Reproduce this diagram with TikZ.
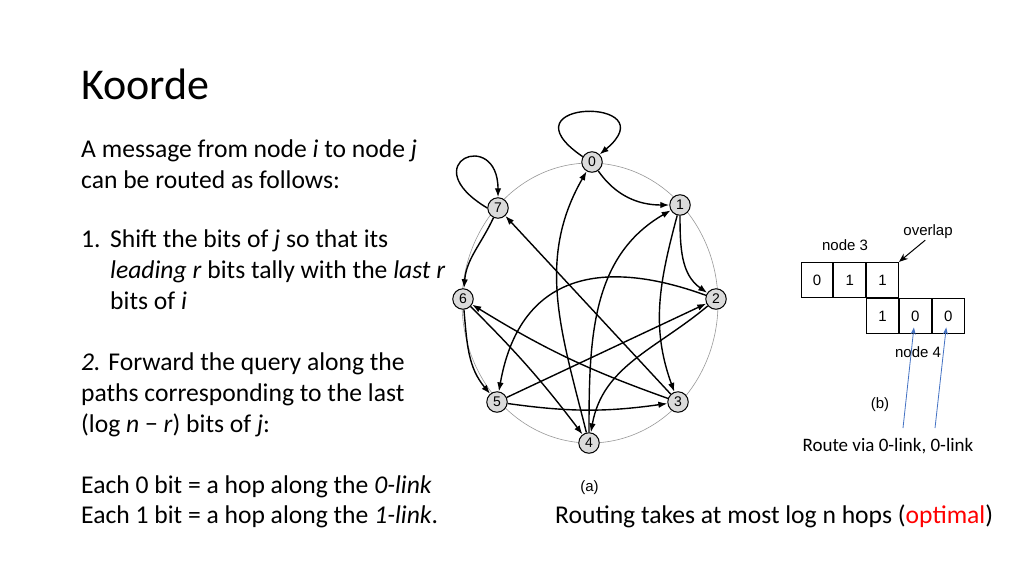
\documentclass[tikz,border=0pt]{standalone}
\usepackage{fontspec}
\setmainfont{Carlito}
\newfontfamily\arialfont{Liberation Sans}
\usetikzlibrary{arrows.meta,positioning}
\definecolor{linkblue}{HTML}{4472C4}
\definecolor{optred}{HTML}{FF0000}
\tikzset{
vertex/.style={draw,circle,fill=black!14,line width=1pt,minimum size=20.5pt,inner sep=0pt,font=\arialfont\fontsize{14}{14}\selectfont},
edge/.style={-{Latex[length=9pt,width=6.5pt]},line width=1.4pt},
ring/.style={draw=black!40,line width=.6pt},
bitbox/.style={draw,line width=1pt,minimum width=31.8pt,minimum height=35.3pt,inner sep=0pt,font=\arialfont\fontsize{15}{15}\selectfont},
small/.style={inner sep=0pt,font=\arialfont\fontsize{15}{15}\selectfont},
body/.style={anchor=base west,inner sep=0pt,font=\fontsize{25.6}{31}\selectfont},
bluearrow/.style={-{Stealth[length=7pt,width=5pt]},draw=linkblue,line width=.8pt}
}

\begin{document}
\begin{tikzpicture}[x=1pt,y=1pt]
\fill[white] (0,0) rectangle (1024,-576);
\useasboundingbox (0,0) rectangle (1024,-576);

% text column
\node[body,font=\fontsize{44}{48}\selectfont] (title) at (81,-99) {Koorde};
\node[body] (l1) at (81,-157) {A message from node \textit{i} to node \textit{j}};
\node[body] (l2) at (81,-188) {can be routed as follows:};
\node[body] (l3) at (81,-247) {\makebox[29pt][l]{1.}Shift the bits of \textit{j} so that its};
\node[body] (l4) at (110,-278) {\textit{leading r} bits tally with the \textit{last r}};
\node[body] (l5) at (110,-309) {bits of \textit{i}};
\node[body] (l6) at (81,-370) {\textit{2.} Forward the query along the};
\node[body] (l7) at (81,-401) {paths corresponding to the last};
\node[body] (l8) at (81,-432) {(log \textit{n} − \textit{r}) bits of \textit{j}:};
\node[body] (l9) at (81,-493) {Each 0 bit = a hop along the \textit{0-link}};
\node[body] (l10) at (81,-523) {Each 1 bit = a hop along the \textit{1-link}.};

% graph (a)
\draw[ring] (590,-303) ellipse [x radius=128,y radius=140];
\node[vertex] (n0) at (592,-162) {0};
\node[vertex] (n1) at (680,-205) {1};
\node[vertex] (n2) at (716,-299) {2};
\node[vertex] (n3) at (678,-402) {3};
\node[vertex] (n4) at (589,-443) {4};
\node[vertex] (n5) at (497,-402) {5};
\node[vertex] (n6) at (463,-299) {6};
\node[vertex] (n7) at (498,-208) {7};

\draw[edge] (n0.150) .. controls +(-85,58) and +(70,58) .. (n0.45);
\draw[edge] (n0) to[out=-55,in=180] (n1);
\draw[edge] (n1) to[out=-90,in=145] (n2);
\draw[edge] (n1) to[out=-105,in=110] (n3);
\draw[edge] (n2) to[out=-140,in=80] (n4);
\draw[edge] (n2) to[out=160,in=80,looseness=1.3] (n5);
\draw[edge] (n3) to[bend left=6] (n6);
\draw[edge] (n3) -- (n7);
\draw[edge] (n4) to[out=104,in=-120] (n0);
\draw[edge] (n4) to[out=90,in=-150] (n1);
\draw[edge] (n5) -- (n2);
\draw[edge] (n5) to[bend right=8] (n3);
\draw[edge] (n6) to[bend left=4] (n4);
\draw[edge] (n6) to[out=-85,in=130] (n5);
\draw[edge] (n7) to[out=-115,in=85] (n6);
\draw[edge] (n7.180) .. controls +(-75,45) and +(0,70) .. (n7.90);

\node[small] (capa) at (589.5,-488) {(a)};

% overlap (b)
\node[bitbox] (bit31) at (817,-280) {0};
\node[bitbox,right=0pt of bit31] (bit32) {1};
\node[bitbox,right=0pt of bit32] (bit33) {1};
\node[bitbox,below=0pt of bit33] (bit41) {1};
\node[bitbox,right=0pt of bit41] (bit42) {0};
\node[bitbox,right=0pt of bit42] (bit43) {0};

\node[small] (lab3) at (845,-245) {node 3};
\node[small] (overlap) at (928,-232) {overlap};
\node[small] (lab4) at (918,-352) {node 4};
\node[small] (capb) at (880,-405) {(b)};
\node[inner sep=0pt,font=\fontsize{19}{19}\selectfont] (route) at (888,-446) {Route via 0-link, 0-link};

\draw[-{Stealth[length=9pt,width=7pt]},line width=1pt] (overlap.south west) ++(22,-1) coordinate (ov) (ov) -- (bit33.north east);
\coordinate (r1) at (903,-428);
\coordinate (r2) at (935,-428);
\draw[bluearrow] (r1) -- ([xshift=-1.5pt,yshift=7pt]bit42.south);
\draw[bluearrow] (r2) -- ([xshift=-2pt,yshift=7pt]bit43.south);

\node[body] (rout) at (555,-523) {Routing takes at most log n hops (\textcolor{optred}{optimal})};
\end{tikzpicture}
\end{document}
